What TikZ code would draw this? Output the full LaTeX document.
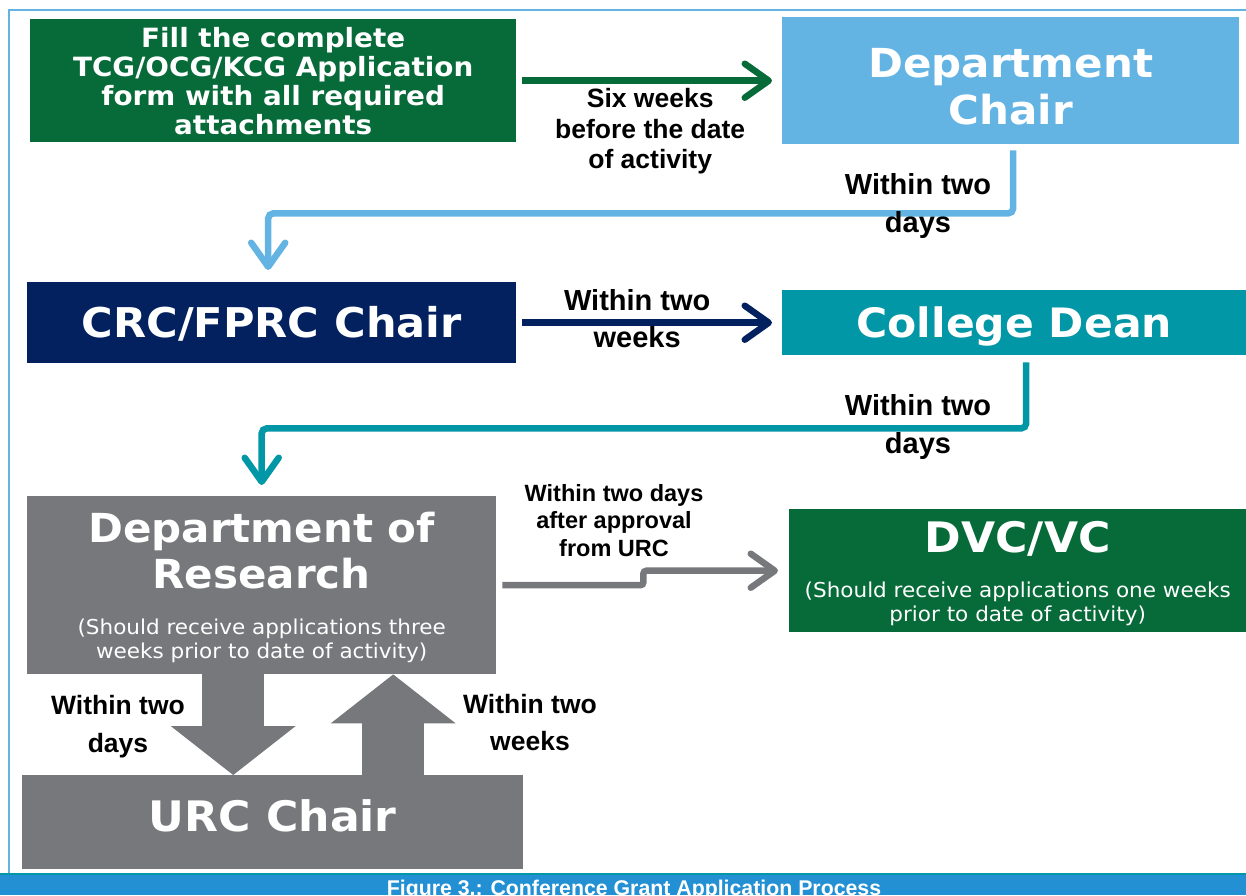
\documentclass[tikz,border=0pt]{standalone}
\usepackage{fontspec}
\setmainfont[FakeStretch=1.05]{DejaVu Sans}
\newfontfamily\arialb{Liberation Sans}
\usepackage{tikz}
\usetikzlibrary{arrows.meta, calc, positioning}

\definecolor{fillgreen}{HTML}{066B38}
\definecolor{chairblue}{HTML}{63B3E3}
\definecolor{crcnavy}{HTML}{03215F}
\definecolor{deanteal}{HTML}{0297A7}
\definecolor{resgrey}{HTML}{76787B}
\definecolor{capblue}{HTML}{2290D3}
\newcommand{\setsz}[2]{\fontsize{#1}{#2}\selectfont}

\tikzset{
  box/.style={anchor=north west, inner sep=0pt, text=white, align=center},
  boxtext/.style={anchor=north, inner sep=0pt, text=white, align=center},
  lbl/.style={anchor=north, inner sep=0pt, text=black, align=center},
  flow/.style={line width=6.5pt, rounded corners=5pt, -{Straight Barb[length=24pt,width=34pt,round]}},
  fat/.style={resgrey, line width=62pt, -{Triangle[length=49pt,width=125pt,line width=0pt]}}
}

\begin{document}
\begin{tikzpicture}[x=1pt,y=-1pt]
\useasboundingbox (0,0) rectangle (1246,895);
\draw[chairblue, line width=2pt] (9,873) -- (9,10) -- (1246,10);
\fill[capblue] (0,875) rectangle (1246,895);
\draw[deanteal, line width=2pt] (0,874) -- (1246,874);
\node[white, inner sep=0pt, anchor=base, font=\arialb\bfseries\setsz{21.3}{24}] (caption) at (634,895) {Figure 3.: Conference Grant Application Process};

\node[box, fill=fillgreen, minimum width=486pt, minimum height=123pt, font=\bfseries\setsz{26.5}{29}] (fill) at (30,19) {Fill the complete\\TCG/OCG/KCG Application\\form with all required\\attachments};
\node[box, fill=chairblue, minimum width=457pt, minimum height=127pt, font=\bfseries\setsz{40}{47}] (chair) at (782,17) {\rule{0pt}{41pt}Department\\Chair};
\node[box, fill=crcnavy, minimum width=489pt, minimum height=81pt, text height=30pt, text depth=0pt, font=\bfseries\setsz{41}{47}] (crc) at (27,282) {CRC/FPRC Chair};
\node[box, fill=deanteal, minimum width=464pt, minimum height=65pt, text height=30pt, text depth=0pt, font=\bfseries\setsz{40.5}{47}] (dean) at (782,290) {College Dean};
\node[box, fill=resgrey, minimum width=469pt, minimum height=178pt] (research) at (27,496) {};
\node[box, fill=fillgreen, minimum width=457pt, minimum height=123pt] (dvc) at (789,509) {};
\node[box, fill=resgrey, minimum width=501pt, minimum height=94pt, text height=31pt, text depth=13pt, font=\bfseries\setsz{42}{47}] (urc) at (22,775) {URC Chair};

\node[boxtext, font=\bfseries\setsz{40}{46}] (restitle) at ($(research.north)+(0,16)$) {Department of\\Research};
\node[boxtext, font=\setsz{20.5}{24}] (resnote) at ($(research.north)+(0,123)$) {(Should receive applications three\\weeks prior to date of activity)};
\node[boxtext, font=\bfseries\setsz{42}{46}] (dvctitle) at ($(dvc.north)+(0,12)$) {DVC/VC};
\node[boxtext, font=\setsz{20.5}{24}] (dvcnote) at ($(dvc.north)+(0,73)$) {(Should receive applications one weeks\\prior to date of activity)};

\draw[flow, fillgreen] ([xshift=6pt]fill.east) -- ([xshift=-10pt]chair.west)
  node[lbl, midway, xshift=3pt, yshift=-4.5pt, font=\arialb\bfseries\setsz{26.5}{30.5}] (sixlbl) {Six weeks\\before the date\\of activity};
\draw[flow, chairblue] ([xshift=2.5pt,yshift=-6pt]chair.south) -- ++(0,63) -| ([xshift=-3.5pt,yshift=12pt]crc.north);
\draw[flow, crcnavy] ([xshift=6pt]crc.east) -- ([xshift=-10pt]dean.west)
  node[lbl, anchor=center, midway, xshift=-10pt, yshift=4.5pt, font=\arialb\bfseries\setsz{29}{37}] (crclbl) {Within two\\weeks};
\draw[flow, deanteal] ([xshift=12pt,yshift=-7pt]dean.south) -- ++(0,66) -| ([yshift=11pt]research.north);
\draw[flow, resgrey, rounded corners=3pt] ([xshift=6pt]research.east) -- ++(141,0) |- ([xshift=-11pt]dvc.west);
\draw[fat] ([xshift=-28.5pt]research.south) -- ([xshift=-28.5pt]research.south |- urc.north);
\draw[fat] ([xshift=131.5pt]research.south |- urc.north) -- ([xshift=131.5pt]research.south);

\node[lbl, font=\arialb\bfseries\setsz{29}{38}] (chairlbl) at (918,173) {Within two\\days};
\node[lbl, font=\arialb\bfseries\setsz{29}{38}] (deanlbl) at (918,394) {Within two\\days};
\node[lbl, font=\arialb\bfseries\setsz{23.5}{27.5}] (dvclbl) at (614,484) {Within two days\\after approval\\from URC};
\node[lbl, font=\arialb\bfseries\setsz{26.5}{38}] (downlbl) at (118,695) {Within two\\days};
\node[lbl, font=\arialb\bfseries\setsz{26.5}{37}] (uplbl) at (530,694) {Within two\\weeks};
\end{tikzpicture}
\end{document}
